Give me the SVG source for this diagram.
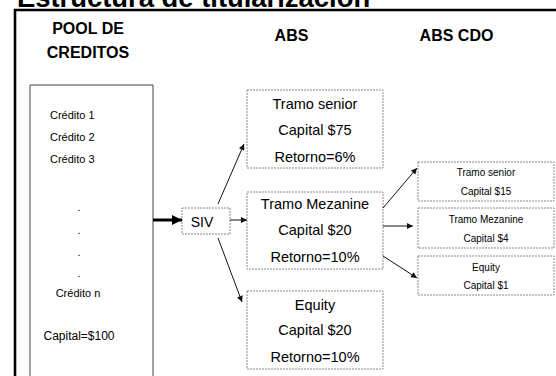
<svg xmlns="http://www.w3.org/2000/svg" width="556" height="376" viewBox="0 0 556 376">
<style>
text{font-family:"Liberation Sans",Arial,sans-serif;fill:#000}
.h{font-weight:bold;font-size:16px;text-anchor:middle}
.p{font-size:11px}
.b{font-size:14.5px;text-anchor:middle}
.c{font-size:10px;text-anchor:middle}
.box{fill:#fff;stroke:#8a8a8a;stroke-width:1;stroke-dasharray:2 1}
.ln{stroke:#111;stroke-width:1;fill:none;marker-end:url(#ah)}
</style>
<defs>
<marker id="ah" viewBox="0 0 10 10" refX="10" refY="5" markerUnits="userSpaceOnUse" markerWidth="7" markerHeight="6" orient="auto"><path d="M0,0 L10,5 L0,10 z" fill="#111"/></marker>
<marker id="ahb" viewBox="0 0 10 10" refX="10" refY="5" markerUnits="userSpaceOnUse" markerWidth="12" markerHeight="10" orient="auto"><path d="M0,0 L10,5 L0,10 z" fill="#000"/></marker>
</defs>
<rect width="556" height="376" fill="#fff"/>
<text x="17" y="7" style="font-weight:bold;font-size:27.4px">Estructura de titularización</text>
<path d="M15,376 V10 H556" fill="none" stroke="#000" stroke-width="2.6"/>
<g id="headings">
<text class="h" x="88" y="34">POOL DE</text>
<text class="h" x="88" y="58">CREDITOS</text>
<text class="h" x="291.5" y="41">ABS</text>
<text class="h" x="456.5" y="41">ABS CDO</text>
</g>
<g id="pool">
<path d="M30,377 V85 H153 V377" fill="#fff" stroke="#444" stroke-width="1"/>
<text class="p" x="50" y="119">Crédito 1</text>
<text class="p" x="50" y="141">Crédito 2</text>
<text class="p" x="50" y="163">Crédito 3</text>
<g class="p" text-anchor="middle">
<text x="79" y="211">.</text>
<text x="79" y="234">.</text>
<text x="79" y="256">.</text>
<text x="79" y="277">.</text>
</g>
<text class="p" x="78" y="297" text-anchor="middle">Crédito n</text>
<text class="p" x="79" y="340" text-anchor="middle" style="font-size:12px">Capital=$100</text>
</g>
<g id="siv">
<rect class="box" x="182" y="208" width="48" height="26"/>
<text x="202" y="227" style="font-size:14px" text-anchor="middle">SIV</text>
</g>
<g id="abs-senior">
<rect class="box" x="247" y="90" width="136" height="78"/>
<text class="b" x="315" y="109">Tramo senior</text>
<text class="b" x="315" y="135">Capital $75</text>
<text class="b" x="315" y="162">Retorno=6%</text>
</g>
<g id="abs-mezanine">
<rect class="box" x="247" y="192" width="136" height="77"/>
<text class="b" x="315" y="209">Tramo Mezanine</text>
<text class="b" x="315" y="235">Capital $20</text>
<text class="b" x="315" y="262">Retorno=10%</text>
</g>
<g id="abs-equity">
<rect class="box" x="247" y="291" width="136" height="78"/>
<text class="b" x="315" y="310">Equity</text>
<text class="b" x="315" y="335">Capital $20</text>
<text class="b" x="315" y="362">Retorno=10%</text>
</g>
<g id="cdo-senior">
<rect class="box" x="418" y="162" width="136" height="39"/>
<text class="c" x="486" y="175.5">Tramo senior</text>
<text class="c" x="486" y="194.5">Capital $15</text>
</g>
<g id="cdo-mezanine">
<rect class="box" x="418" y="208" width="136" height="40"/>
<text class="c" x="486" y="222.5">Tramo Mezanine</text>
<text class="c" x="486" y="241.5">Capital $4</text>
</g>
<g id="cdo-equity">
<rect class="box" x="418" y="256" width="136" height="39"/>
<text class="c" x="486" y="270.5">Equity</text>
<text class="c" x="486" y="288.5">Capital $1</text>
</g>
<g id="connectors">
<line x1="153" y1="220" x2="182" y2="220" stroke="#000" stroke-width="3" marker-end="url(#ahb)"/>
<line class="ln" x1="218" y1="204" x2="244" y2="144"/>
<line class="ln" x1="230" y1="220" x2="247" y2="220"/>
<line class="ln" x1="218" y1="238" x2="242" y2="302"/>
<line class="ln" x1="383" y1="208" x2="417" y2="168"/>
<line class="ln" x1="383" y1="226" x2="413" y2="226"/>
<line class="ln" x1="383" y1="256" x2="417" y2="278"/>
</g>
</svg>
